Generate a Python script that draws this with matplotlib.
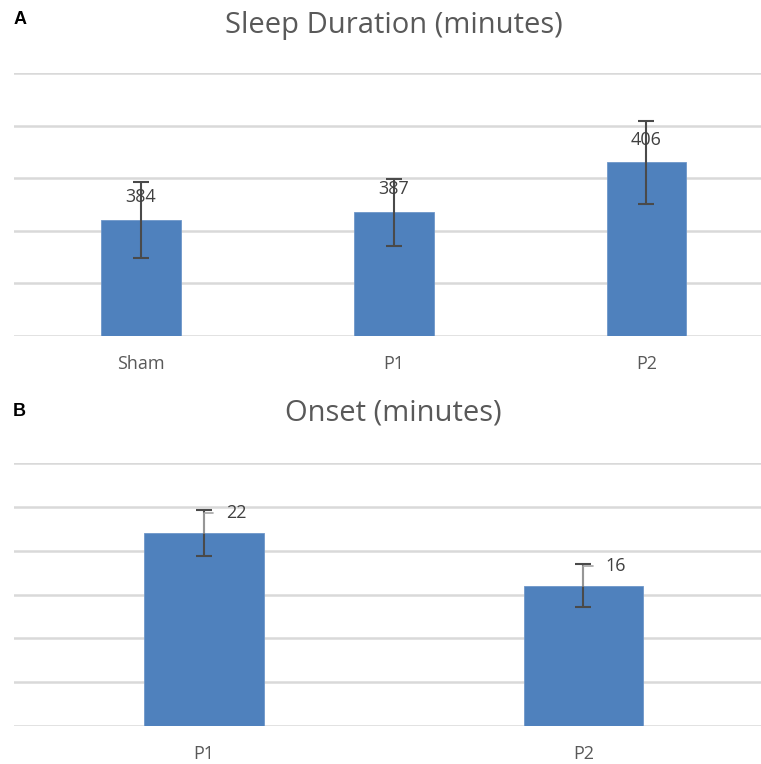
import matplotlib.pyplot as plt

plt.rcParams["font.family"] = ["Open Sans", "DejaVu Sans"]

# --- data ---
durationGroups = ["Sham", "P1", "P2"]
durationMeans = [384, 387, 406]
durationErrors = [14.5, 12.8, 15.8]
durationTicks = [340, 360, 380, 400, 420, 440]

onsetGroups = ["P1", "P2"]
onsetMeans = [22, 16]
onsetErrors = [2.6, 2.45]
onsetTicks = [0, 5, 10, 15, 20, 25, 30]

barColor = "#4f81bd"
gridColor = "#d9d9d9"
textColor = "#595959"
labelColor = "#404040"
errColor = "#4a4a4a"

W, H = 761, 764
fig = plt.figure(figsize=(W / 100, H / 100), dpi=100)


def makeAxis(top, bottom):
    ax = fig.add_axes([14 / W, 1 - bottom / H, 1 - 14 / W, (bottom - top) / H])
    for spine in ax.spines.values():
        spine.set_visible(False)
    ax.set_yticks([])
    ax.tick_params(axis="x", length=0, pad=14, labelsize=13, labelcolor=textColor)
    return ax


def drawGrid(ax, ticks):
    for t in ticks:
        ax.axhline(t, color=gridColor, linewidth=1.8, zorder=0)
    ax.set_ylim(ticks[0], ticks[-1])


# --- panel A: sleep duration ---
axA = makeAxis(73, 336)
drawGrid(axA, durationTicks)
xA = range(len(durationGroups))
axA.bar(xA, [m - durationTicks[0] for m in durationMeans], bottom=durationTicks[0],
        width=0.315, color=barColor, edgecolor="#6f97c9", linewidth=0.6, zorder=2)
axA.errorbar(xA, durationMeans, yerr=durationErrors, fmt="none", ecolor=errColor,
             elinewidth=1.5, capsize=6, capthick=1.5, zorder=3)
for x, m in zip(xA, durationMeans):
    axA.annotate(str(m), xy=(x, m), xytext=(0, 16.5), textcoords="offset points",
                 ha="center", va="center", fontsize=13, color=labelColor, zorder=4)
axA.set_xticks(list(xA))
axA.set_xticklabels(durationGroups)
axA.set_xlim(-0.5026, 2 + (761 - 646.5) / 252.7)

# --- panel B: onset ---
axB = makeAxis(463, 726)
drawGrid(axB, onsetTicks)
xB = range(len(onsetGroups))
axB.bar(xB, onsetMeans, width=0.3145, color=barColor, edgecolor="#6f97c9",
        linewidth=0.6, zorder=2)
axB.errorbar(xB, onsetMeans, yerr=onsetErrors, fmt="none", ecolor=errColor,
             elinewidth=1.5, capsize=6, capthick=1.5, zorder=3)
for x, m in zip(xB, onsetMeans):
    axB.annotate(str(m), xy=(x, m), xytext=(23, 14.5), textcoords="offset points",
                 ha="center", va="center", fontsize=13, color=labelColor, zorder=4,
                 arrowprops=dict(arrowstyle="-", color="#a6a6a6", linewidth=1.2,
                                 shrinkA=7, shrinkB=0,
                                 connectionstyle="angle,angleA=0,angleB=90,rad=0"))
axB.set_xticks(list(xB))
axB.set_xticklabels(onsetGroups)
axB.set_xlim(-0.501, 1 + (761 - 583.3) / 379.3)

# --- titles and panel letters ---
fig.text(393.5 / W, 1 - 26 / H, "Sleep Duration (minutes)", ha="center", va="center",
         fontsize=21, color=textColor)
fig.text(393.5 / W, 1 - 413 / H, "Onset (minutes)", ha="center", va="center",
         fontsize=21, color=textColor)
fig.text(14 / W, 1 - 20 / H, "A", ha="left", va="center", fontsize=13,
         fontweight="bold", family="Liberation Sans", color="black")
fig.text(13 / W, 1 - 411 / H, "B", ha="left", va="center", fontsize=13,
         fontweight="bold", family="Liberation Sans", color="black")

fig.savefig("out.png", dpi=100)
